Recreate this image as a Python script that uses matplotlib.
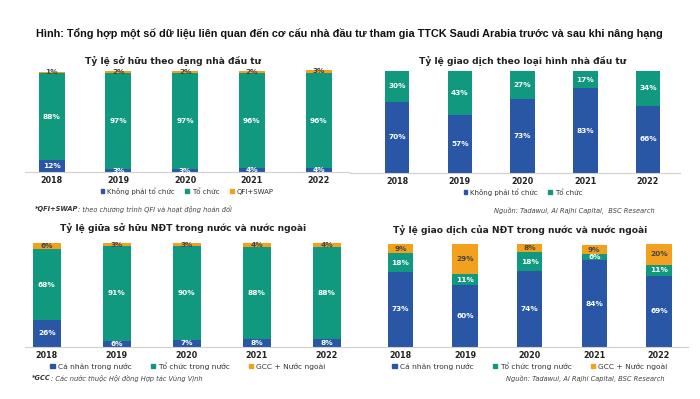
import matplotlib.pyplot as plt
import numpy as np
from matplotlib.patches import Patch

W, H = 700, 399

years = ['2018', '2019', '2020', '2021', '2022']

# chart 1 - ownership by investor type
own_non_inst = [12, 3, 3, 4, 4]
own_inst = [88, 97, 97, 96, 96]
own_qfi = [1, 2, 2, 2, 3]

# chart 2 - trading by investor type
trade_non_inst = [70, 57, 73, 83, 66]
trade_inst = [30, 43, 27, 17, 34]

# chart 3 - ownership domestic vs foreign
own_dom_ind = [26, 6, 7, 8, 8]
own_dom_inst = [68, 91, 90, 88, 88]
own_gcc = [6, 3, 3, 4, 4]

# chart 4 - trading domestic vs foreign
trade_dom_ind = [73, 60, 74, 84, 69]
trade_dom_inst = [18, 11, 18, 6, 11]
trade_gcc = [9, 29, 8, 9, 20]

BLUE = '#2A56A6'
TEAL = '#10997E'
ORANGE = '#F2A11E'
GRAY = '#444444'

plt.rcParams['font.family'] = ['DejaVu Sans']


def px_axes(fig, x0, x1, y0, y1):
    # pixel box (top-left origin) -> figure axes
    return fig.add_axes([x0 / W, 1 - y1 / H, (x1 - x0) / W, (y1 - y0) / H])


def stacked(ax, series, colors, width, xlim, ymax):
    x = np.arange(len(years))
    bottom = np.zeros(len(years))
    for vals, col in zip(series, colors):
        vals = np.array(vals, dtype=float)
        ax.bar(x, vals, width, bottom=bottom, color=col, linewidth=0)
        for xi, b, v in zip(x, bottom, vals):
            tc = GRAY if col == ORANGE else 'white'
            ax.text(xi, b + v / 2, f'{int(v)}%', ha='center', va='center',
                    fontsize=5.3, fontweight='bold', color=tc)
        bottom += vals
    ax.set_xlim(*xlim)
    ax.set_ylim(0, ymax)
    ax.set_xticks(x)
    ax.set_xticklabels(years, fontsize=5.8, fontweight='bold', color='#222222')
    ax.tick_params(axis='x', length=0, pad=3)
    ax.set_yticks([])
    for s in ['top', 'left', 'right']:
        ax.spines[s].set_visible(False)
    ax.spines['bottom'].set_color('#d0d0d0')
    ax.spines['bottom'].set_linewidth(0.8)
    ax.patch.set_alpha(0)


def legend(fig, labels, colors, xc, yc, size=5.0, gap=1.5):
    handles = [Patch(color=c, label=l) for l, c in zip(labels, colors)]
    fig.legend(handles=handles, loc='center', bbox_to_anchor=(xc / W, 1 - yc / H),
               ncol=len(labels), frameon=False, fontsize=size, handlelength=0.55,
               handleheight=0.55, handletextpad=0.4, columnspacing=gap,
               borderpad=0, labelcolor='#333333')


def note(fig, bold, rest, x, y):
    t = fig.text(x / W, 1 - y / H, bold, ha='left', va='center', fontsize=4.8,
                 fontweight='bold', style='italic', color='#333333')
    plt.annotate(rest, xy=(1, 0.5), xycoords=t, ha='left', va='center',
                 fontsize=4.8, style='italic', color='#444444')


fig = plt.figure(figsize=(7, 3.99), dpi=100)

fig.text(349 / W, 1 - 33 / H,
         'Hình: Tổng hợp một số dữ liệu liên quan đến cơ cấu nhà đầu tư tham gia TTCK Saudi Arabia trước và sau khi nâng hạng',
         ha='center', va='center', fontsize=7.8, fontweight='bold', color='#111111',
         family=['Liberation Sans', 'DejaVu Sans'])

# top-left
ax1 = px_axes(fig, 25, 350, 70, 172)
stacked(ax1, [own_non_inst, own_inst, own_qfi], [BLUE, TEAL, ORANGE], 0.39,
        (-0.40, 4.47), 103)
fig.text(173 / W, 1 - 61 / H, 'Tỷ lệ sở hữu theo dạng nhà đầu tư', ha='center',
         va='center', fontsize=6.6, fontweight='bold', color='#222222')
legend(fig, ['Không phải tổ chức', 'Tổ chức', 'QFI+SWAP'], [BLUE, TEAL, ORANGE], 187, 191)
note(fig, '*QFI+SWAP', ': theo chương trình QFI và hoạt động hoán đổi', 35, 209)

# top-right
ax2 = px_axes(fig, 350, 680, 71, 173)
stacked(ax2, [trade_non_inst, trade_inst], [BLUE, TEAL], 0.39,
        (-0.75, 4.51), 100)
fig.text(523 / W, 1 - 61 / H, 'Tỷ lệ giao dịch theo loại hình nhà đầu tư', ha='center',
         va='center', fontsize=6.6, fontweight='bold', color='#222222')
legend(fig, ['Không phải tổ chức', 'Tổ chức'], [BLUE, TEAL], 523, 192)
fig.text(655 / W, 1 - 211 / H, 'Nguồn: Tadawul, Al Rajhi Capital,  BSC Research',
         ha='right', va='center', fontsize=4.8, style='italic', color='#444444')

# bottom-left
ax3 = px_axes(fig, 25, 350, 243, 347)
stacked(ax3, [own_dom_ind, own_dom_inst, own_gcc], [BLUE, TEAL, ORANGE], 0.40,
        (-0.31, 4.33), 100)
fig.text(183 / W, 1 - 228 / H, 'Tỷ lệ giữa sở hữu NĐT trong nước và nước ngoài',
         ha='center', va='center', fontsize=6.6, fontweight='bold', color='#222222')
legend(fig, ['Cá nhân trong nước', 'Tổ chức trong nước', 'GCC + Nước ngoài'],
       [BLUE, TEAL, ORANGE], 188, 366, size=5.4, gap=2.6)
note(fig, '*GCC', ': Các nước thuộc Hội đồng Hợp tác Vùng Vịnh', 32, 378)

# bottom-right
ax4 = px_axes(fig, 350, 688, 244, 347)
stacked(ax4, [trade_dom_ind, trade_dom_inst, trade_gcc], [BLUE, TEAL, ORANGE], 0.39,
        (-0.78, 4.45), 100)
fig.text(520 / W, 1 - 230 / H, 'Tỷ lệ giao dịch của NĐT trong nước và nước ngoài',
         ha='center', va='center', fontsize=6.6, fontweight='bold', color='#222222')
legend(fig, ['Cá nhân trong nước', 'Tổ chức trong nước', 'GCC + Nước ngoài'],
       [BLUE, TEAL, ORANGE], 530, 366, size=5.4, gap=2.6)
fig.text(665 / W, 1 - 378 / H, 'Nguồn: Tadawul, Al Rajhi Capital, BSC Research',
         ha='right', va='center', fontsize=4.8, style='italic', color='#444444')

fig.savefig('out.png', dpi=100)
